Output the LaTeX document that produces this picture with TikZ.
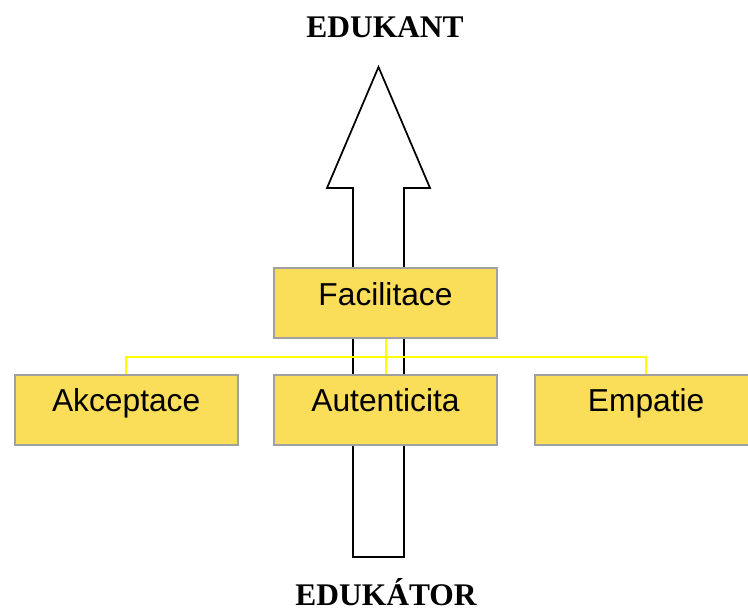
\documentclass[tikz,border=0pt]{standalone}
\usepackage{fontspec}
\setmainfont{Liberation Serif}
\setsansfont{Liberation Sans}
\usepackage{xcolor}
\usepackage{tikz}
\usetikzlibrary{positioning}

\definecolor{boxfill}{RGB}{250,221,88}
\definecolor{boxline}{RGB}{160,160,160}
\definecolor{linkyellow}{RGB}{255,255,0}

\begin{document}
\begin{tikzpicture}[
    x=0.75pt, y=-0.75pt,
    node distance=27pt,
    box/.style={draw=boxline, fill=boxfill, line width=1.5pt, minimum width=167pt,
                minimum height=52.5pt, inner sep=0pt, text height=12pt, text depth=9pt,
                font=\sffamily\fontsize{23.8}{28}\selectfont},
    link/.style={draw=linkyellow, line width=1.5pt},
    bigarrow/.style={draw=black, line width=1.3pt, fill=white, line join=miter},
    title/.style={anchor=base, inner sep=0pt, font=\bfseries\fontsize{23.6}{28}\selectfont}
]
\clip (0,0) rectangle (748,610);

% Arrow from educator to learner
\coordinate (shaftbl) at (353,557);
\coordinate (tip) at (378.5,67);
\draw[bigarrow] (shaftbl) -- (353,188) -- (327,188) -- (tip) -- (430,188)
    -- (404,188) -- (404,557) -- cycle;

% Titles
\node[title] (edukant) at (385,38) {EDUKANT};
\node[title] (edukator) at (386,605) {EDUKÁTOR};

% Boxes
\node[box] (facil) at (385.5,303) {Facilitace};
\node[box, below=26pt of facil] (autent) {Autenticita};
\node[box, left=26pt of autent] (akcept) {Akceptace};
\node[box, right=27pt of autent] (empat) {Empatie};

% Connectors
\draw[link] (facil.south) -- (autent.north);
\draw[link] (facil.south) -- ++(0,18) -| (akcept.north);
\draw[link] (facil.south) -- ++(0,18) -| (empat.north);

\end{tikzpicture}
\end{document}
